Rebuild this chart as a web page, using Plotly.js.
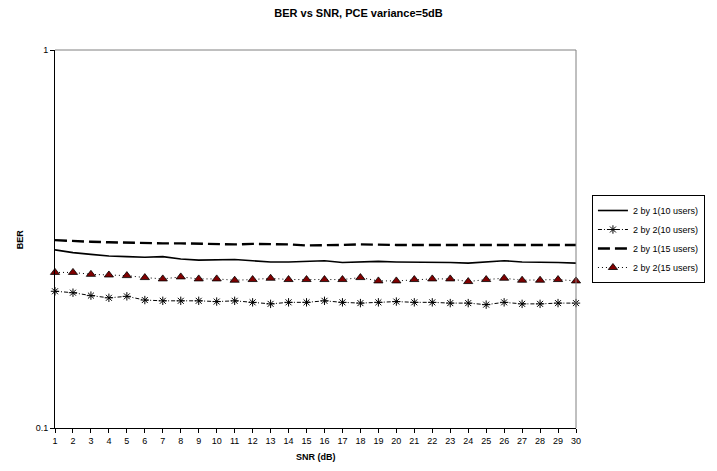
<!DOCTYPE html>
<html>
<head>
<meta charset="utf-8">
<script src="https://cdn.plot.ly/plotly-3.0.1.min.js"></script>
<style>html,body{margin:0;padding:0;background:#fff;}#chart{width:717px;height:471px;}</style>
</head>
<body>
<div id="chart"></div>
<script>
const snr = [1,2,3,4,5,6,7,8,9,10,11,12,13,14,15,16,17,18,19,20,21,22,23,24,25,26,27,28,29,30];
const ber21_10 = [0.296,0.291,0.288,0.285,0.284,0.283,0.284,0.280,0.278,0.278,0.279,0.277,0.275,0.275,0.276,0.277,0.274,0.275,0.276,0.275,0.275,0.275,0.274,0.273,0.275,0.277,0.275,0.275,0.274,0.273];
const ber22_10 = [0.230,0.228,0.224,0.221,0.223,0.218,0.217,0.217,0.217,0.216,0.217,0.215,0.213,0.215,0.215,0.217,0.215,0.214,0.215,0.216,0.215,0.215,0.214,0.214,0.212,0.215,0.213,0.213,0.214,0.214];
const ber21_15 = [0.314,0.312,0.311,0.310,0.309,0.308,0.308,0.308,0.307,0.307,0.306,0.307,0.307,0.306,0.304,0.304,0.305,0.306,0.305,0.305,0.305,0.305,0.305,0.306,0.306,0.306,0.305,0.305,0.305,0.305];
const ber22_15 = [0.258,0.258,0.255,0.254,0.253,0.250,0.248,0.251,0.248,0.248,0.246,0.247,0.249,0.247,0.247,0.247,0.247,0.250,0.245,0.245,0.247,0.248,0.248,0.244,0.247,0.249,0.246,0.246,0.247,0.245];
const seriesNames = ['2 by 1(10 users)','2 by 2(10 users)','2 by 1(15 users)','2 by 2(15 users)'];
const yTickVals = [0.1, 1];
const yTickText = ['0.1', '1'];

const F = 'Arial, "Liberation Sans", sans-serif';
const traces = [
  {x: snr, y: ber21_10, name: seriesNames[0], mode: 'lines', type: 'scatter',
   line: {color: '#000', width: 1.6}, cliponaxis: false},
  {x: snr, y: ber22_10, name: seriesNames[1], mode: 'lines+markers', type: 'scatter',
   line: {color: '#000', width: 1, dash: '4px,2px,1px,2px'},
   marker: {symbol: 'asterisk-open', size: 7, color: '#000', line: {color: '#000', width: 1}}, cliponaxis: false},
  {x: snr, y: ber21_15, name: seriesNames[2], mode: 'lines', type: 'scatter',
   line: {color: '#000', width: 2.4, dash: '12px,5px'}, cliponaxis: false},
  {x: snr, y: ber22_15, name: seriesNames[3], mode: 'lines+markers', type: 'scatter',
   line: {color: '#000', width: 1, dash: '1px,3px'},
   marker: {symbol: 'triangle-up', size: 8, color: '#800000', line: {color: '#000', width: 0.8}}, cliponaxis: false}
];

const layout = {
  width: 717, height: 471,
  margin: {l: 55, r: 139, t: 50, b: 43},
  paper_bgcolor: '#fff', plot_bgcolor: '#fff',
  font: {family: F, size: 9, color: '#000'},
  title: {text: '<b>BER vs SNR, PCE variance=5dB</b>', font: {family: F, size: 11, color: '#000'},
          x: 0.5, xref: 'container', y: 1 - 13/471, yref: 'container', yanchor: 'middle'},
  xaxis: {range: [1, 30], tickvals: snr, ticktext: snr.map(String), showgrid: false, zeroline: false,
          showline: true, linecolor: '#000', linewidth: 1, ticks: 'outside', ticklen: 4, tickcolor: '#000',
          tickfont: {family: F, size: 9, color: '#000'}},
  yaxis: {type: 'log', range: [-1, 0], tickvals: yTickVals, ticktext: yTickText, showgrid: false, zeroline: false,
          showline: true, linecolor: '#000', linewidth: 1, ticks: 'outside', ticklen: 4, tickcolor: '#000',
          tickfont: {family: F, size: 9, color: '#000'}},
  showlegend: true,
  legend: {x: (594-55)/523, xanchor: 'left', y: 0.5, yanchor: 'middle', bgcolor: '#fff',
           bordercolor: '#000', borderwidth: 1, font: {family: F, size: 9, color: '#000'},
           itemwidth: 30, tracegroupgap: 0},
  shapes: [
    {type: 'line', xref: 'paper', yref: 'paper', x0: 0, x1: 1, y0: 1, y1: 1, line: {color: '#808080', width: 1}},
    {type: 'line', xref: 'paper', yref: 'paper', x0: 1, x1: 1, y0: 0, y1: 1, line: {color: '#808080', width: 1}}
  ],
  annotations: [
    {text: '<b>SNR (dB)</b>', xref: 'paper', yref: 'paper', x: 0.5, y: (428-457)/378, showarrow: false,
     xanchor: 'center', yanchor: 'middle', font: {family: F, size: 9, color: '#000'}},
    {text: '<b>BER</b>', xref: 'paper', yref: 'paper', x: (20-55)/523, y: 0.5, showarrow: false, textangle: -90,
     xanchor: 'center', yanchor: 'middle', font: {family: F, size: 9, color: '#000'}}
  ]
};
Plotly.newPlot('chart', traces, layout, {displayModeBar: false, staticPlot: true});
</script>
</body>
</html>
